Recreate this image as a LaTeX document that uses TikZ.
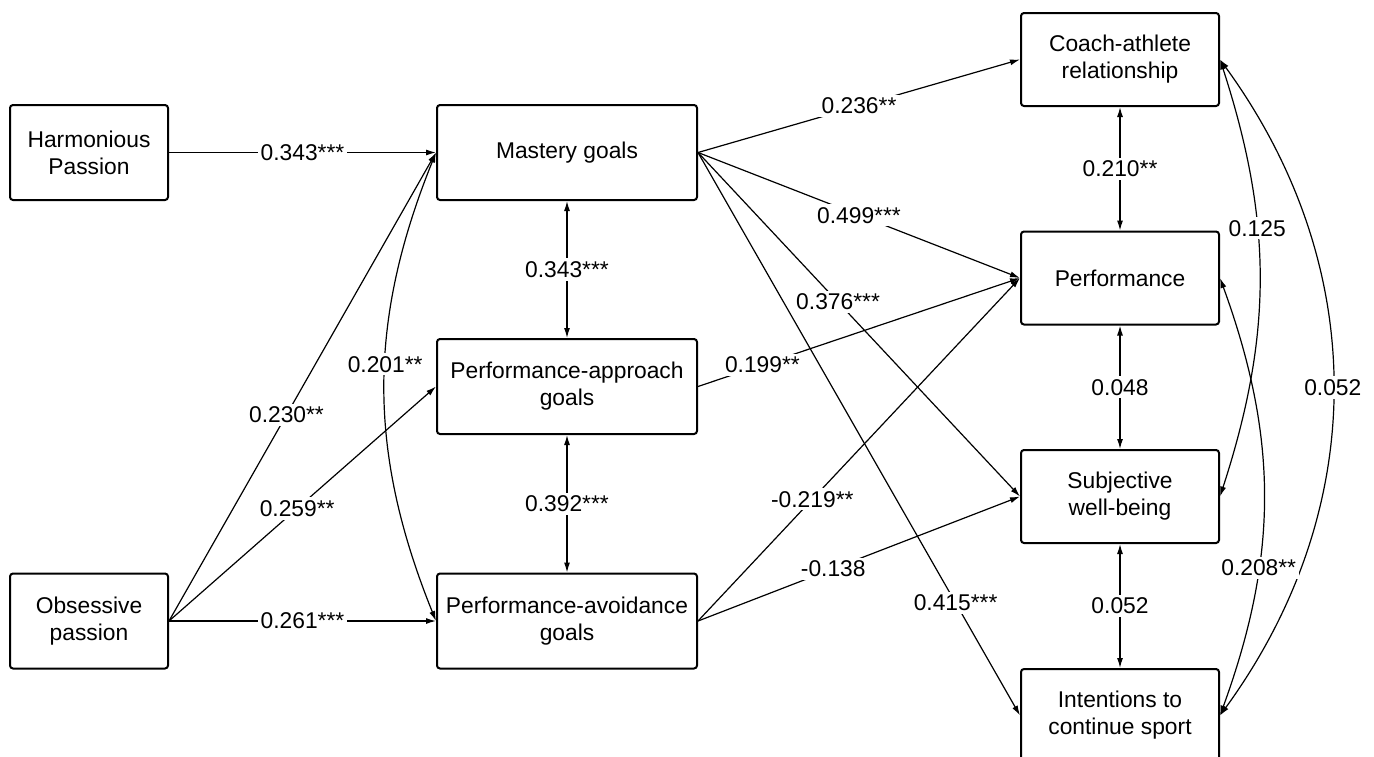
\documentclass[tikz,border=0pt]{standalone}
\usepackage{fontspec}
\setmainfont{Liberation Sans}
\usetikzlibrary{arrows.meta}

\begin{document}
\begin{tikzpicture}[x=0.5pt, y=0.5pt, >={Latex[length=5pt,width=3pt]},
	font=\fontsize{11.4}{13.5}\selectfont,
	main node/.style={draw,line width=1pt,rounded corners=1.5pt,align=center,inner sep=2pt},
	in node/.style={main node,minimum width=79pt,minimum height=47.5pt},
	goal node/.style={main node,minimum width=130pt,minimum height=47.5pt},
	out node/.style={main node,minimum width=99pt,minimum height=46.5pt}]
	
	\useasboundingbox (0,0) rectangle (1374,-756);
	
	\node[in node] (hp) at (89,-152.5) {Harmonious\\Passion};
	\node[in node] (op) at (89,-621) {Obsessive\\passion};
	\node[goal node] (mg) at (567,-152.5) {Mastery goals};
	\node[goal node] (pap) at (567,-386.5) {Performance-approach\\goals};
	\node[goal node] (pav) at (567,-621) {Performance-avoidance\\goals};
	\node[out node] (ca) at (1120,-59.5) {Coach-athlete\\relationship};
	\node[out node] (perf) at (1120,-278) {Performance};
	\node[out node] (swb) at (1120,-496.5) {Subjective\\well-being};
	\node[out node] (int) at (1120,-715.5) {Intentions to\\continue sport};
	
	\path[->, line width=0.6pt, every node/.style={fill=white,inner sep=1.5pt}]
	(hp.east) edge node {0.343***} (mg.west)
	(op.east) edge node[pos=.44] {0.230**} (mg.west)
	edge node[pos=.48] {0.259**} (pap.west)
	edge node {0.261***} (pav.west)
	(mg.east) edge node {0.236**} (ca.west)
	edge node {0.499***} (perf.west)
	edge node[pos=.435] {0.376***} (swb.west)
	edge node[pos=.8] {0.415***} (int.west)
	(pap.east) edge node[pos=.2] {0.199**} (perf.west)
	(pav.east) edge node[pos=.355] {-0.219**} (perf.west)
	edge node[pos=.42] {-0.138} (swb.west);
	
	\path[<->, line width=0.6pt, every node/.style={fill=white,inner sep=1.5pt}]
	(mg.south) edge node {0.343***} (pap.north)
	(pap.south) edge node {0.392***} (pav.north)
	(mg.west) edge [bend right=22] node[pos=.45] {0.201**} (pav.west)
	(ca.south) edge node {0.210**} (perf.north)
	(perf.south) edge node {0.048} (swb.north)
	(swb.south) edge node {0.052} (int.north)
	(ca.east) edge [bend left=18] node[pos=.38] {0.125} (swb.east)
	edge [bend left=36] node {0.052} (int.east)
	(perf.east) edge [bend left=20] node[pos=.67] {0.208**} (int.east);
\end{tikzpicture}
\end{document}
